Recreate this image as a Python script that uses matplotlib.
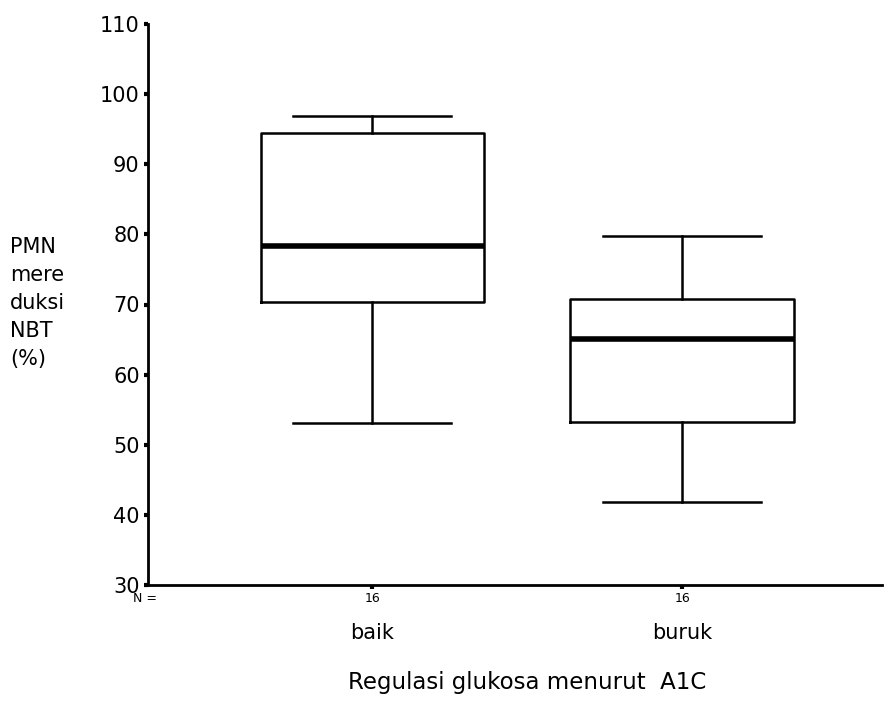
import matplotlib.pyplot as plt

# ===========================
# DATA
# ===========================
groups = ["baik", "buruk"]
n_counts = [16, 16]
whisker_low = [53.1, 41.8]
q1 = [70.3, 53.2]
median = [78.3, 65.1]
q3 = [94.4, 70.8]
whisker_high = [96.9, 79.8]

y_ticks = [30, 40, 50, 60, 70, 80, 90, 100, 110]

# ===========================
# PLOT
# ===========================
plt.rcParams['font.family'] = ['DejaVu Sans']

fig = plt.figure(figsize=(8.95, 7.23), dpi=100)
ax = fig.add_axes([148 / 895, 1 - 585 / 723, (882 - 148) / 895, (585 - 24) / 723])

stats = []
for i, g in enumerate(groups):
    stats.append({
        "label": g,
        "whislo": whisker_low[i],
        "q1": q1[i],
        "med": median[i],
        "q3": q3[i],
        "whishi": whisker_high[i],
        "fliers": [],
    })

positions = [1, 2]
ax.bxp(stats, positions=positions, widths=0.72, capwidths=0.51,
       showfliers=False,
       boxprops=dict(color="black", linewidth=1.8),
       medianprops=dict(color="black", linewidth=4),
       whiskerprops=dict(color="black", linewidth=1.8),
       capprops=dict(color="black", linewidth=1.8))

ax.set_xlim(0.277, 2.645)
ax.set_ylim(30, 110)

ax.spines["top"].set_visible(False)
ax.spines["right"].set_visible(False)
ax.spines["left"].set_linewidth(2)
ax.spines["bottom"].set_linewidth(2)

ax.set_yticks(y_ticks)
ax.set_yticklabels([str(t) for t in y_ticks], fontsize=15)
ax.tick_params(axis="y", length=3, width=3, pad=3)

ax.set_xticks(positions)
ax.set_xticklabels([str(n) for n in n_counts], fontsize=9)
ax.tick_params(axis="x", length=3, width=3, pad=2)

# group names under the N row
for p, g in zip(positions, groups):
    ax.text(p, -0.085, g, transform=ax.get_xaxis_transform(),
            ha="center", va="center", fontsize=15)

fig.text(145 / 895, 1 - 599 / 723, "N =", ha="center", va="center", fontsize=9)

fig.text(10 / 895, 1 - 303 / 723, "PMN\nmere\nduksi\nNBT\n(%)",
         ha="left", va="center", fontsize=15, linespacing=1.5)

fig.text(527 / 895, 1 - 683 / 723, "Regulasi glukosa menurut  A1C",
         ha="center", va="center", fontsize=16.5)

fig.savefig("out.png", dpi=100)
